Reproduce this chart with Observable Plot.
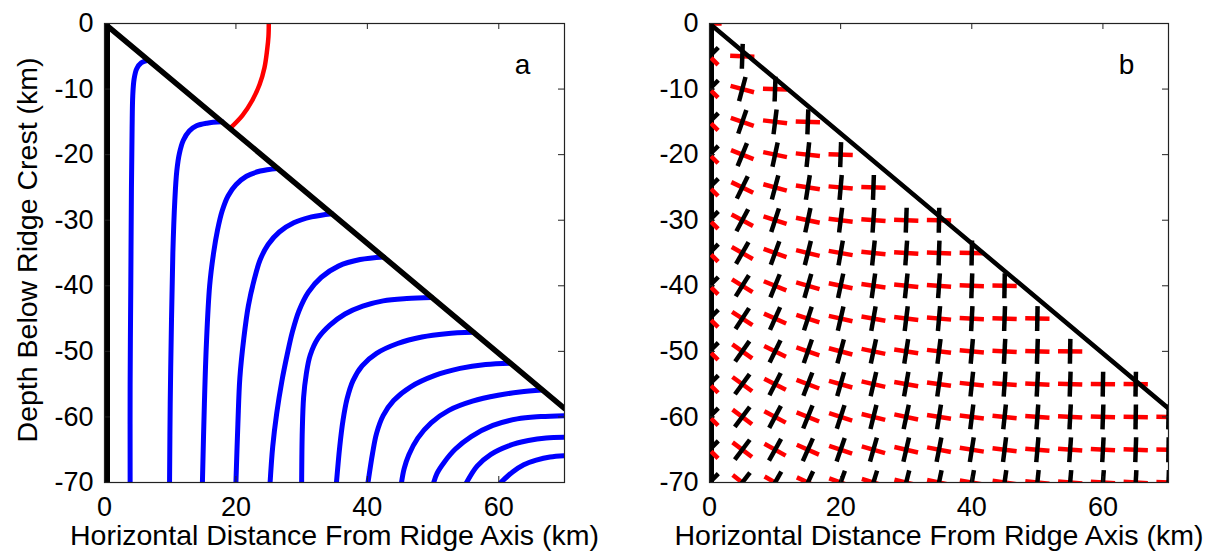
<!DOCTYPE html>
<html>
<head>
<meta charset="utf-8">
<script src="https://cdn.jsdelivr.net/npm/d3@7"></script>
<script src="https://cdn.jsdelivr.net/npm/@observablehq/plot@0.6"></script>
<style>
html,body{margin:0;padding:0;background:#fff;}
#wrap{display:flex;width:1217px;height:560px;overflow:hidden;}
#pa{width:600px;flex:none;}
#pb{width:617px;flex:none;}
#wrap svg{display:block;max-width:none;}
</style>
</head>
<body>
<div id="wrap"><div id="pa"></div><div id="pb"></div></div>
<script>
// ---------- data ----------
const xTicks = [0, 20, 40, 60];
const yTicks = [0, -10, -20, -30, -40, -50, -60, -70];
const xTitle = "Horizontal Distance From Ridge Axis (km)";
const yTitle = "Depth Below Ridge Crest (km)";
const panelLabels = ["a", "b"];

// ridge flank (seafloor) and ridge axis
const ridgeX = [0, 70];
const ridgeY = [0, -58.7];
const axisLineX = [0, 0];
const axisLineY = [0, -70];

// red curve (panel a)
const redX = [25.0, 24.95, 24.75, 24.35, 23.6, 22.5, 21.0, 19.1];
const redY = [0, -2, -4, -6.7, -9.3, -11.7, -14.0, -16.0];

// blue flow lines (panel a)
const flowX = [
  [6.6, 5.6, 4.9, 4.5, 4.3, 4.2, 4.1, 4.0, 3.9, 3.9],
  [17.9, 15.6, 14.0, 12.9, 12.0, 11.4, 11.0, 10.7, 10.4, 10.2, 10.0, 9.9],
  [26.3, 23.7, 21.6, 20.0, 18.8, 17.9, 17.2, 16.6, 16.0, 15.5, 15.2, 14.9],
  [34.6, 31.5, 28.8, 26.6, 24.9, 23.7, 22.8, 21.9, 21.2, 20.6, 20.3, 20.0],
  [42.5, 38.9, 35.6, 33.0, 31.0, 29.6, 28.6, 27.8, 27.0, 26.2, 25.6, 25.2],
  [49.8, 46.0, 42.4, 39.3, 36.6, 34.3, 32.5, 31.3, 30.7, 30.3, 30.1, 30.0],
  [56.1, 52.0, 48.3, 44.6, 41.4, 39.2, 37.8, 36.9, 36.3, 35.8, 35.3],
  [61.7, 58.0, 54.1, 50.2, 46.6, 44.0, 42.4, 41.4, 40.8, 40.1],
  [66.6, 63.2, 59.9, 56.0, 52.4, 49.7, 47.7, 46.3, 45.6, 45.2],
  [70.0, 66.4, 62.8, 59.1, 55.8, 53.4, 51.7, 50.6, 50.1],
  [70.0, 67.2, 64.5, 61.5, 58.8, 56.7, 55.1],
  [70.0, 67.8, 65.7, 63.8, 62.1, 60.3]
];
const flowY = [
  [-5.6, -6.0, -6.9, -8.5, -11, -16, -25, -40, -55, -70],
  [-15.0, -15.2, -15.6, -16.4, -17.8, -19.8, -22.5, -27, -35, -45, -58, -70],
  [-22.1, -22.5, -23.3, -24.6, -26.3, -28.6, -31.5, -35, -40, -49, -58, -70],
  [-29.0, -29.5, -30.4, -31.8, -33.7, -36, -39, -43, -48, -54, -61, -70],
  [-35.6, -36.0, -37.0, -38.7, -41, -43.8, -47, -50.5, -54.5, -59.5, -64.5, -70],
  [-41.8, -41.95, -42.3, -43.1, -44.3, -46.0, -48.0, -50.6, -53.5, -57, -62, -70],
  [-47.1, -47.3, -47.8, -48.8, -50.3, -52.2, -54.5, -57.3, -60.5, -64.5, -70],
  [-51.8, -52.0, -52.6, -53.7, -55.4, -57.5, -59.8, -62.5, -65.5, -70],
  [-55.9, -56.2, -56.7, -57.6, -59.0, -60.9, -63.2, -65.8, -67.9, -70],
  [-59.8, -59.95, -60.3, -61.3, -63.0, -64.9, -66.9, -68.6, -70],
  [-63.1, -63.2, -63.6, -64.4, -65.7, -67.5, -70],
  [-65.9, -66.1, -66.6, -67.3, -68.4, -70]
];

// stress crosses (panel b): grid columns, rows, and tilt (deg from vertical) of the black axis per row
const gridX = [0, 5, 10, 15, 20, 25, 30, 35, 40, 45, 50, 55, 60, 65, 70];
const gridDepths = [0, -5, -10, -15, -20, -25, -30, -35, -40, -45, -50, -55, -60, -65, -70];
const tiltDeg = [
  [0],
  [45, 2],
  [45, 15, 2],
  [45, 19, 7, 2],
  [45, 22, 12, 6, 2],
  [45, 26, 15, 9, 5, 2],
  [45, 28, 18, 12, 7, 4, 2, 1],
  [45, 30, 20, 14, 10, 6, 4, 2, 1],
  [45, 32, 22, 16, 12, 8, 6, 4, 2, 1],
  [45, 33, 24, 18, 13, 10, 7, 5, 3, 2, 1],
  [45, 35, 26, 19, 15, 12, 9, 7, 5, 3, 2, 1],
  [45, 36, 27, 21, 16, 13, 10, 8, 6, 4, 3, 2, 1, 1],
  [45, 37, 28, 22, 18, 14, 12, 9, 7, 6, 4, 3, 2, 1, 1],
  [45, 37, 29, 24, 19, 16, 13, 11, 9, 7, 5, 4, 3, 2, 1],
  [45, 38, 30, 25, 20, 17, 14, 12, 10, 8, 6, 5, 4, 3, 2]
];

// ---------- tables ----------
const ridge = ridgeX.map((x, i) => ({x, y: ridgeY[i]}));
const axisLine = axisLineX.map((x, i) => ({x, y: axisLineY[i]}));
const red = redX.map((x, i) => ({x, y: redY[i]}));
const flows = flowX.flatMap((xs, k) => xs.map((x, i) => ({x, y: flowY[k][i], id: k})));
const crosses = gridDepths.flatMap((yv, i) => tiltDeg[i].map((t, j) => ({x: gridX[j], y: yv, t: t * Math.PI / 180})));
const HB = 1.9, HR = 1.85;

// ---------- layout ----------
const H = 560, MT = 23, MB = 78;
const FONT = "'Liberation Sans', Arial, Helvetica, sans-serif";

function decor(width, ml, mr, label, withYTitle) {
  const fw = width - ml - mr, fh = H - MT - MB, t = 6;
  const m = [
    Plot.frame({stroke: "#222", strokeWidth: 1.2}),
    Plot.ruleX(xTicks, {x: d => d, insetBottom: fh - t, stroke: "#222"}),
    Plot.ruleX(xTicks, {x: d => d, insetTop: fh - t, stroke: "#222"}),
    Plot.ruleY(yTicks, {y: d => d, insetRight: fw - t, stroke: "#222"}),
    Plot.ruleY(yTicks, {y: d => d, insetLeft: fw - t, stroke: "#222"}),
    Plot.axisX({ticks: xTicks, tickSize: 0, tickPadding: 14, tickFormat: d => String(d), label: null, fontSize: 27}),
    Plot.axisY({ticks: yTicks, tickSize: 0, tickPadding: 11, tickFormat: d => String(d), label: null, fontSize: 27}),
    Plot.text([xTitle], {frameAnchor: "bottom", dy: 62, text: d => d, fontSize: 28.5, textAnchor: "middle"}),
    Plot.text([label], {frameAnchor: "top-right", dx: -42, dy: 31, text: d => d, fontSize: 28, textAnchor: "middle"})
  ];
  if (withYTitle) m.push(Plot.text([yTitle], {frameAnchor: "left", dx: -77, dy: -3, rotate: -90, text: d => d, fontSize: 28.5, textAnchor: "middle"}));
  return m;
}

function panel(width, ml, mr, marks) {
  return Plot.plot({
    width, height: H, marginTop: MT, marginBottom: MB, marginLeft: ml, marginRight: mr,
    x: {domain: [0, 70]}, y: {domain: [-70, 0]},
    style: {fontFamily: FONT, fontSize: "27px", color: "#000", background: "#fff"},
    marks
  });
}

// Panel a
const A = {w: 600, ml: 104, mr: 36};
const plotA = panel(A.w, A.ml, A.mr, [
  Plot.line(flows, {x: "x", y: "y", z: "id", stroke: "#0000ff", strokeWidth: 5, curve: "catmull-rom", clip: true}),
  Plot.line(red, {x: "x", y: "y", stroke: "#ff0000", strokeWidth: 4.5, curve: "catmull-rom", clip: true}),
  Plot.line(axisLine, {x: "x", y: "y", stroke: "#000", strokeWidth: 11, clip: true}),
  Plot.line(ridge, {x: "x", y: "y", stroke: "#000", strokeWidth: 5.5, clip: true}),
  ...decor(A.w, A.ml, A.mr, panelLabels[0], true)
]);
document.getElementById("pa").appendChild(plotA);

// Panel b
const B = {w: 617, ml: 109, mr: 49};
const plotB = panel(B.w, B.ml, B.mr, [
  Plot.line(axisLine, {x: "x", y: "y", stroke: "#000", strokeWidth: 9, clip: true}),
  Plot.link(crosses, {
    x1: d => d.x - HR * Math.cos(d.t), y1: d => d.y + HR * Math.sin(d.t),
    x2: d => d.x + HR * Math.cos(d.t), y2: d => d.y - HR * Math.sin(d.t),
    stroke: "#ff0000", strokeWidth: 4.5, clip: true
  }),
  Plot.link(crosses, {
    x1: d => d.x - HB * Math.sin(d.t), y1: d => d.y - HB * Math.cos(d.t),
    x2: d => d.x + HB * Math.sin(d.t), y2: d => d.y + HB * Math.cos(d.t),
    stroke: "#000", strokeWidth: 4.5, clip: true
  }),
  Plot.line(ridge, {x: "x", y: "y", stroke: "#000", strokeWidth: 4.5, clip: true}),
  ...decor(B.w, B.ml, B.mr, panelLabels[1], false)
]);
document.getElementById("pb").appendChild(plotB);
</script>
</body>
</html>
